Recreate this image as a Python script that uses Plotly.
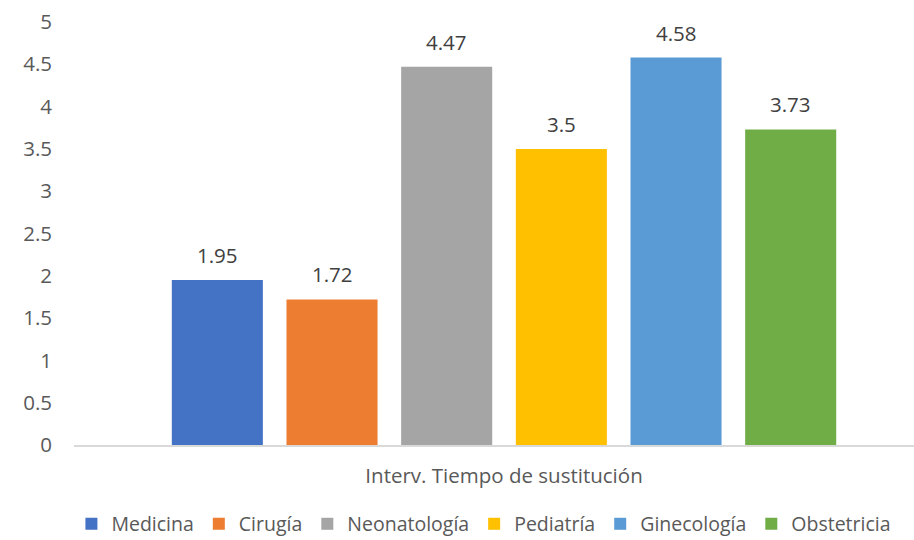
import plotly.graph_objects as go

category = ["Interv. Tiempo de sustitución"]
series_names = ["Medicina", "Cirugía", "Neonatología", "Pediatría", "Ginecología", "Obstetricia"]
series_values = [1.95, 1.72, 4.47, 3.5, 4.58, 3.73]
series_colors = ["#4472C4", "#ED7D31", "#A5A5A5", "#FFC000", "#5B9BD5", "#70AD47"]
y_ticks = [0, 0.5, 1, 1.5, 2, 2.5, 3, 3.5, 4, 4.5, 5]
y_ticklabels = ["0", "0.5", "1", "1.5", "2", "2.5", "3", "3.5", "4", "4.5", "5"]

FONT = "Open Sans"
TXT = "#595959"
BARGAP = 0.2
BARGROUPGAP = 0.206

fig = go.Figure()
for name, val, col in zip(series_names, series_values, series_colors):
    fig.add_trace(go.Bar(name=name, x=category, y=[val], marker=dict(color=col, line=dict(width=0))))

# data labels above each bar, placed via the axes
n = len(series_names)
slot = (1 - BARGAP) / n
for i, (name, val) in enumerate(zip(series_names, series_values)):
    xc = -(1 - BARGAP) / 2 + (i + 0.5) * slot
    fig.add_annotation(x=xc, y=val, xref="x", yref="y", text=f"{val:g}", showarrow=False,
                       yanchor="middle", yshift=25, font=dict(family=FONT, size=20.5, color="#404040"))

fig.update_layout(
    width=914, height=540,
    margin=dict(l=74, r=0, t=22, b=95, autoexpand=False),
    paper_bgcolor="white", plot_bgcolor="white",
    barmode="group", bargap=BARGAP, bargroupgap=BARGROUPGAP,
    font=dict(family=FONT, size=20, color=TXT),
    showlegend=True,
    legend=dict(orientation="h", x=0.488, xanchor="center", y=-0.187, yanchor="middle",
                font=dict(family=FONT, size=19.5, color=TXT), itemclick=False),
    xaxis=dict(type="category", range=[-0.5, 0.4767], showline=True, linecolor="#D9D9D9", linewidth=1.5,
               showgrid=False, ticks="", ticklabelstandoff=12, tickfont=dict(family=FONT, size=20.5, color=TXT),
               automargin=False),
    yaxis=dict(range=[0, 5], tickvals=y_ticks, ticktext=y_ticklabels, showgrid=False, zeroline=False,
               showline=False, ticks="", ticklabelstandoff=21, tickfont=dict(family=FONT, size=20.5, color=TXT),
               automargin=False),
)

fig.write_html("out.html", config={"displayModeBar": False},
               post_script="document.body.style.margin='0';document.body.style.overflow='hidden';")
